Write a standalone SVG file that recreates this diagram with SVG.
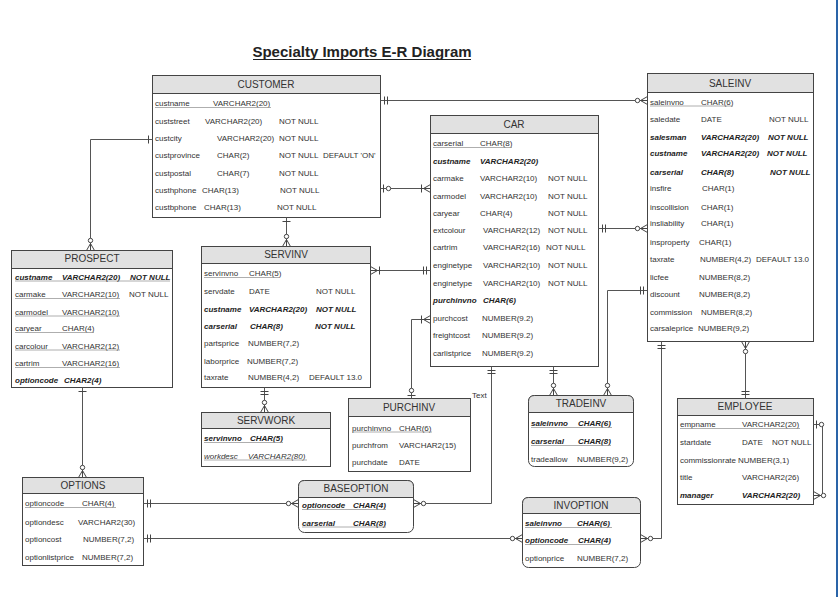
<svg xmlns="http://www.w3.org/2000/svg" xmlns:xlink="http://www.w3.org/1999/xlink" width="839" height="597" viewBox="0 0 839 597">
<style>
.box{fill:#fff;stroke:#444;stroke-width:1}
.hd{fill:#e1e1e1;stroke:#444;stroke-width:1}
.ht{font-family:"Liberation Sans",Arial,sans-serif;font-size:10px;fill:#333;text-anchor:middle}
.r{font-family:"Liberation Sans",Arial,sans-serif;font-size:8px;fill:#333}
.bi{font-weight:bold;font-style:italic;fill:#222}
.it{font-style:italic}
.ul{stroke:#999;stroke-width:0.8}
.cn{fill:none;stroke:#555;stroke-width:1}
.sy{fill:none;stroke:#444;stroke-width:1}
.sc{fill:#fff;stroke:#444;stroke-width:1}
.title{font-family:"Liberation Sans",Arial,sans-serif;font-size:15px;font-weight:bold;fill:#222;text-anchor:middle}
</style>
<defs>
<g id="m0"><path class="sy" d="M0,-4L7,0L0,4M0,0H8"/><circle class="sc" cx="10" cy="0" r="2.2"/></g>
<g id="m1"><path class="sy" d="M0,-4L7,0L0,4M0,0H10M9,-4V4"/></g>
<g id="o1"><path class="sy" d="M4,-4V4M7,-4V4"/></g>
<g id="z1"><path class="sy" d="M3,-4V4"/><circle class="sc" cx="8" cy="0" r="2.2"/></g>
<g id="b1"><path class="sy" d="M4,-4V4"/></g>
</defs>
<rect width="839" height="597" fill="#fff"/>
<line x1="837" y1="0" x2="837" y2="597" stroke="#2a64a8" stroke-width="2"/>
<text class="title" x="362" y="57">Specialty Imports E-R Diagram</text>
<line x1="253" y1="59.5" x2="471" y2="59.5" stroke="#222" stroke-width="1.2"/>

<g id="customer">
<rect class="box" x="152.5" y="75.5" width="228" height="142"/>
<rect class="hd" x="152.5" y="75.5" width="228" height="18"/>
<text class="ht" x="266" y="88">CUSTOMER</text>
<text class="r" y="106"><tspan x="155">custname</tspan><tspan x="213">VARCHAR2(20)</tspan></text>
<line class="ul" x1="155" y1="107.5" x2="271" y2="107.5"/>
<text class="r" y="123.5"><tspan x="155">custstreet</tspan><tspan x="205">VARCHAR2(20)</tspan><tspan x="279">NOT NULL</tspan></text>
<text class="r" y="141"><tspan x="155">custcity</tspan><tspan x="217">VARCHAR2(20)</tspan><tspan x="279">NOT NULL</tspan></text>
<text class="r" y="158"><tspan x="155">custprovince</tspan><tspan x="217">CHAR(2)</tspan><tspan x="279">NOT NULL</tspan><tspan x="323">DEFAULT 'ON'</tspan></text>
<text class="r" y="175.5"><tspan x="155">custpostal</tspan><tspan x="217">CHAR(7)</tspan><tspan x="279">NOT NULL</tspan></text>
<text class="r" y="193"><tspan x="155">custhphone</tspan><tspan x="202">CHAR(13)</tspan><tspan x="280">NOT NULL</tspan></text>
<text class="r" y="210"><tspan x="155">custbphone</tspan><tspan x="204">CHAR(13)</tspan><tspan x="277">NOT NULL</tspan></text>
</g>

<g id="car">
<rect class="box" x="430.5" y="115.5" width="168" height="251"/>
<rect class="hd" x="430.5" y="115.5" width="168" height="18"/>
<text class="ht" x="514" y="128">CAR</text>
<text class="r" y="146"><tspan x="433">carserial</tspan><tspan x="480">CHAR(8)</tspan></text>
<line class="ul" x1="433" y1="147.5" x2="512" y2="147.5"/>
<text class="r bi" y="164"><tspan x="433">custname</tspan><tspan x="480">VARCHAR2(20)</tspan></text>
<text class="r" y="181"><tspan x="433">carmake</tspan><tspan x="480">VARCHAR2(10)</tspan><tspan x="548">NOT NULL</tspan></text>
<text class="r" y="199"><tspan x="433">carmodel</tspan><tspan x="480">VARCHAR2(10)</tspan><tspan x="548">NOT NULL</tspan></text>
<text class="r" y="216"><tspan x="433">caryear</tspan><tspan x="480">CHAR(4)</tspan><tspan x="548">NOT NULL</tspan></text>
<text class="r" y="233"><tspan x="433">extcolour</tspan><tspan x="483">VARCHAR2(12)</tspan><tspan x="548">NOT NULL</tspan></text>
<text class="r" y="250"><tspan x="433">cartrim</tspan><tspan x="483">VARCHAR2(16)</tspan><tspan x="546">NOT NULL</tspan></text>
<text class="r" y="268"><tspan x="433">enginetype</tspan><tspan x="483">VARCHAR2(10)</tspan><tspan x="548">NOT NULL</tspan></text>
<text class="r" y="286"><tspan x="433">enginetype</tspan><tspan x="483">VARCHAR2(10)</tspan><tspan x="548">NOT NULL</tspan></text>
<text class="r bi" y="303"><tspan x="433">purchinvno</tspan><tspan x="483">CHAR(6)</tspan></text>
<text class="r" y="321"><tspan x="433">purchcost</tspan><tspan x="482">NUMBER(9.2)</tspan></text>
<text class="r" y="338"><tspan x="433">freightcost</tspan><tspan x="482">NUMBER(9.2)</tspan></text>
<text class="r" y="356"><tspan x="433">carlistprice</tspan><tspan x="482">NUMBER(9.2)</tspan></text>
</g>

<g id="saleinv">
<rect class="box" x="647.5" y="73.5" width="166" height="268"/>
<rect class="hd" x="647.5" y="73.5" width="166" height="19"/>
<text class="ht" x="730" y="87">SALEINV</text>
<text class="r" y="104.5"><tspan x="650">saleinvno</tspan><tspan x="701">CHAR(6)</tspan></text>
<line class="ul" x1="650" y1="106" x2="733" y2="106"/>
<text class="r" y="122"><tspan x="650">saledate</tspan><tspan x="701">DATE</tspan><tspan x="769">NOT NULL</tspan></text>
<text class="r bi" y="139.5"><tspan x="650">salesman</tspan><tspan x="701">VARCHAR2(20)</tspan><tspan x="768">NOT NULL</tspan></text>
<text class="r bi" y="156"><tspan x="650">custname</tspan><tspan x="701">VARCHAR2(20)</tspan><tspan x="767">NOT NULL</tspan></text>
<text class="r bi" y="174.5"><tspan x="650">carserial</tspan><tspan x="701">CHAR(8)</tspan><tspan x="770">NOT NULL</tspan></text>
<text class="r" y="191"><tspan x="650">insfire</tspan><tspan x="702">CHAR(1)</tspan></text>
<text class="r" y="209.5"><tspan x="650">inscollision</tspan><tspan x="701">CHAR(1)</tspan></text>
<text class="r" y="226"><tspan x="650">insliability</tspan><tspan x="701">CHAR(1)</tspan></text>
<text class="r" y="244.5"><tspan x="650">insproperty</tspan><tspan x="699">CHAR(1)</tspan></text>
<text class="r" y="262"><tspan x="650">taxrate</tspan><tspan x="700">NUMBER(4,2)</tspan><tspan x="756">DEFAULT 13.0</tspan></text>
<text class="r" y="279.5"><tspan x="650">licfee</tspan><tspan x="699">NUMBER(8,2)</tspan></text>
<text class="r" y="297"><tspan x="650">discount</tspan><tspan x="699">NUMBER(8,2)</tspan></text>
<text class="r" y="314.5"><tspan x="650">commission</tspan><tspan x="701">NUMBER(8,2)</tspan></text>
<text class="r" y="331"><tspan x="650">carsaleprice</tspan><tspan x="698">NUMBER(9,2)</tspan></text>
</g>

<g id="prospect">
<rect class="box" x="11.5" y="250.5" width="161" height="137"/>
<rect class="hd" x="11.5" y="250.5" width="161" height="18"/>
<text class="ht" x="92" y="262">PROSPECT</text>
<text class="r bi" y="279.5"><tspan x="15">custname</tspan><tspan x="62">VARCHAR2(20)</tspan><tspan x="130">NOT NULL</tspan></text>
<line class="ul" x1="15" y1="281" x2="170" y2="281"/>
<text class="r" y="297"><tspan x="15">carmake</tspan><tspan x="62">VARCHAR2(10)</tspan><tspan x="129">NOT NULL</tspan></text>
<line class="ul" x1="15" y1="298.5" x2="120" y2="298.5"/>
<text class="r" y="314.5"><tspan x="15">carmodel</tspan><tspan x="62">VARCHAR2(10)</tspan></text>
<line class="ul" x1="15" y1="316" x2="120" y2="316"/>
<text class="r" y="331"><tspan x="15">caryear</tspan><tspan x="62">CHAR(4)</tspan></text>
<line class="ul" x1="15" y1="332.5" x2="94" y2="332.5"/>
<text class="r" y="348.5"><tspan x="15">carcolour</tspan><tspan x="62">VARCHAR2(12)</tspan></text>
<line class="ul" x1="15" y1="350" x2="120" y2="350"/>
<text class="r" y="366"><tspan x="15">cartrim</tspan><tspan x="62">VARCHAR2(16)</tspan></text>
<line class="ul" x1="15" y1="367.5" x2="120" y2="367.5"/>
<text class="r bi" y="383"><tspan x="15">optioncode</tspan><tspan x="64">CHAR2(4)</tspan></text>
</g>

<g id="servinv">
<rect class="box" x="201.5" y="246.5" width="169" height="141"/>
<rect class="hd" x="201.5" y="246.5" width="169" height="17"/>
<text class="ht" x="286" y="258">SERVINV</text>
<text class="r" y="276"><tspan x="204">servinvno</tspan><tspan x="249">CHAR(5)</tspan></text>
<line class="ul" x1="204" y1="277.5" x2="279" y2="277.5"/>
<text class="r" y="293.5"><tspan x="204">servdate</tspan><tspan x="249">DATE</tspan><tspan x="316">NOT NULL</tspan></text>
<text class="r bi" y="312"><tspan x="204">custname</tspan><tspan x="249">VARCHAR2(20)</tspan><tspan x="316">NOT NULL</tspan></text>
<text class="r bi" y="329"><tspan x="204">carserial</tspan><tspan x="250">CHAR(8)</tspan><tspan x="315">NOT NULL</tspan></text>
<text class="r" y="346"><tspan x="204">partsprice</tspan><tspan x="248">NUMBER(7,2)</tspan></text>
<text class="r" y="363.5"><tspan x="204">laborprice</tspan><tspan x="247">NUMBER(7,2)</tspan></text>
<text class="r" y="380"><tspan x="204">taxrate</tspan><tspan x="248">NUMBER(4,2)</tspan><tspan x="309">DEFAULT 13.0</tspan></text>
</g>

<g id="servwork">
<rect class="box" x="201.5" y="412.5" width="129" height="54"/>
<rect class="hd" x="201.5" y="412.5" width="129" height="16"/>
<text class="ht" x="266" y="424">SERVWORK</text>
<text class="r bi" y="441"><tspan x="204">servinvno</tspan><tspan x="250">CHAR(5)</tspan></text>
<line class="ul" x1="204" y1="442.5" x2="283" y2="442.5"/>
<text class="r it" y="458.5"><tspan x="204">workdesc</tspan><tspan x="248">VARCHAR2(80)</tspan></text>
<line class="ul" x1="204" y1="460" x2="307" y2="460"/>
</g>

<g id="purchinv">
<rect class="box" x="348.5" y="398.5" width="122" height="73"/>
<rect class="hd" x="348.5" y="398.5" width="122" height="18"/>
<text class="ht" x="409" y="411">PURCHINV</text>
<text class="r" y="430.5"><tspan x="352">purchinvno</tspan><tspan x="399">CHAR(6)</tspan></text>
<line class="ul" x1="352" y1="432" x2="432" y2="432"/>
<text class="r" y="448"><tspan x="352">purchfrom</tspan><tspan x="399">VARCHAR2(15)</tspan></text>
<text class="r" y="465"><tspan x="352">purchdate</tspan><tspan x="399">DATE</tspan></text>
</g>
<text class="r" x="472" y="398">Text</text>

<g id="tradeinv">
<rect class="box" x="528.5" y="395.5" width="105" height="71" rx="6"/>
<path class="hd" d="M528.5,412.5V401.5Q528.5,395.5 534.5,395.5H627.5Q633.5,395.5 633.5,401.5V412.5Z"/>
<text class="ht" x="581" y="407">TRADEINV</text>
<text class="r bi" y="426"><tspan x="531">saleinvno</tspan><tspan x="578">CHAR(6)</tspan></text>
<line class="ul" x1="531" y1="427.5" x2="612" y2="427.5"/>
<text class="r bi" y="444"><tspan x="531">carserial</tspan><tspan x="578">CHAR(8)</tspan></text>
<line class="ul" x1="531" y1="445.5" x2="611" y2="445.5"/>
<text class="r" y="462"><tspan x="531">tradeallow</tspan><tspan x="577">NUMBER(9,2)</tspan></text>
</g>

<g id="employee">
<rect class="box" x="677.5" y="398.5" width="136" height="106"/>
<rect class="hd" x="677.5" y="398.5" width="136" height="17"/>
<text class="ht" x="745" y="410">EMPLOYEE</text>
<text class="r" y="427"><tspan x="680">empname</tspan><tspan x="742">VARCHAR2(20)</tspan></text>
<line class="ul" x1="680" y1="428.5" x2="800" y2="428.5"/>
<text class="r" y="444.5"><tspan x="680">startdate</tspan><tspan x="742">DATE</tspan><tspan x="772">NOT NULL</tspan></text>
<text class="r" y="463"><tspan x="680">commissionrate</tspan><tspan x="738">NUMBER(3,1)</tspan></text>
<text class="r" y="480"><tspan x="680">title</tspan><tspan x="742">VARCHAR2(26)</tspan></text>
<text class="r bi" y="498"><tspan x="680">manager</tspan><tspan x="742">VARCHAR2(20)</tspan></text>
</g>

<g id="options">
<rect class="box" x="22.5" y="477.5" width="121" height="88"/>
<rect class="hd" x="22.5" y="477.5" width="121" height="16"/>
<text class="ht" x="83" y="489">OPTIONS</text>
<text class="r" y="506"><tspan x="25">optioncode</tspan><tspan x="82">CHAR(4)</tspan></text>
<line class="ul" x1="25" y1="507.5" x2="116" y2="507.5"/>
<text class="r" y="525"><tspan x="25">optiondesc</tspan><tspan x="78">VARCHAR2(30)</tspan></text>
<text class="r" y="542"><tspan x="25">optioncost</tspan><tspan x="83">NUMBER(7,2)</tspan></text>
<text class="r" y="560"><tspan x="25">optionlistprice</tspan><tspan x="82">NUMBER(7,2)</tspan></text>
</g>

<g id="baseoption">
<rect class="box" x="298.5" y="480.5" width="115" height="52" rx="6"/>
<path class="hd" d="M298.5,497.5V486.5Q298.5,480.5 304.5,480.5H407.5Q413.5,480.5 413.5,486.5V497.5Z"/>
<text class="ht" x="356" y="492">BASEOPTION</text>
<text class="r bi" y="508"><tspan x="302">optioncode</tspan><tspan x="353">CHAR(4)</tspan></text>
<line class="ul" x1="302" y1="509.5" x2="386" y2="509.5"/>
<text class="r bi" y="525.5"><tspan x="302">carserial</tspan><tspan x="353">CHAR(8)</tspan></text>
<line class="ul" x1="302" y1="527" x2="386" y2="527"/>
</g>

<g id="invoption">
<rect class="box" x="522.5" y="497.5" width="118" height="70" rx="6"/>
<path class="hd" d="M522.5,513.5V503.5Q522.5,497.5 528.5,497.5H634.5Q640.5,497.5 640.5,503.5V513.5Z"/>
<text class="ht" x="581" y="509">INVOPTION</text>
<text class="r bi" y="526"><tspan x="525">saleinvno</tspan><tspan x="577">CHAR(6)</tspan></text>
<line class="ul" x1="525" y1="527.5" x2="612" y2="527.5"/>
<text class="r bi" y="543"><tspan x="525">optioncode</tspan><tspan x="578">CHAR(4)</tspan></text>
<line class="ul" x1="525" y1="544.5" x2="609" y2="544.5"/>
<text class="r" y="560.5"><tspan x="525">optionprice</tspan><tspan x="577">NUMBER(7,2)</tspan></text>
</g>

<g id="connectors">
<path class="cn" d="M380.5,100.5H647.5"/>
<use xlink:href="#o1" transform="translate(380.5,100.5)"/>
<use xlink:href="#m0" transform="translate(647.5,100.5) rotate(180)"/>

<path class="cn" d="M380.5,188.5H430.5"/>
<use xlink:href="#z1" transform="translate(380.5,188.5)"/>
<use xlink:href="#m1" transform="translate(430.5,188.5) rotate(180)"/>

<path class="cn" d="M152.5,139.5H90.5V250.5"/>
<use xlink:href="#b1" transform="translate(152.5,139.5) rotate(180)"/>
<use xlink:href="#m0" transform="translate(90.5,250.5) rotate(-90)"/>

<path class="cn" d="M286.5,217.5V246.5"/>
<use xlink:href="#b1" transform="translate(286.5,217.5) rotate(90)"/>
<use xlink:href="#m0" transform="translate(286.5,246.5) rotate(-90)"/>

<path class="cn" d="M370.5,270.5H430.5"/>
<use xlink:href="#m1" transform="translate(370.5,270.5)"/>
<use xlink:href="#o1" transform="translate(430.5,270.5) rotate(180)"/>

<path class="cn" d="M430.5,319.5H411.5V398.5"/>
<use xlink:href="#m1" transform="translate(430.5,319.5) rotate(180)"/>
<use xlink:href="#z1" transform="translate(411.5,398.5) rotate(-90)"/>

<path class="cn" d="M491.5,366.5V503.5H413.5"/>
<use xlink:href="#o1" transform="translate(491.5,366.5) rotate(90)"/>
<use xlink:href="#m0" transform="translate(413.5,503.5)"/>

<path class="cn" d="M553.5,366.5V395.5"/>
<use xlink:href="#o1" transform="translate(553.5,366.5) rotate(90)"/>
<use xlink:href="#m0" transform="translate(553.5,395.5) rotate(-90)"/>

<path class="cn" d="M598.5,228.5H647.5"/>
<use xlink:href="#o1" transform="translate(598.5,228.5)"/>
<use xlink:href="#m0" transform="translate(647.5,228.5) rotate(180)"/>

<path class="cn" d="M647.5,290.5H607.5V395.5"/>
<use xlink:href="#o1" transform="translate(647.5,290.5) rotate(180)"/>
<use xlink:href="#m0" transform="translate(607.5,395.5) rotate(-90)"/>

<path class="cn" d="M745.5,341.5V398.5"/>
<use xlink:href="#m0" transform="translate(745.5,341.5) rotate(90)"/>
<use xlink:href="#o1" transform="translate(745.5,398.5) rotate(-90)"/>

<path class="cn" d="M661.5,341.5V538.5H640.5"/>
<use xlink:href="#o1" transform="translate(661.5,341.5) rotate(90)"/>
<use xlink:href="#m0" transform="translate(640.5,538.5)"/>

<path class="cn" d="M143.5,503.5H298.5"/>
<use xlink:href="#o1" transform="translate(143.5,503.5)"/>
<use xlink:href="#m0" transform="translate(298.5,503.5) rotate(180)"/>

<path class="cn" d="M143.5,538.5H522.5"/>
<use xlink:href="#o1" transform="translate(143.5,538.5)"/>
<use xlink:href="#m0" transform="translate(522.5,538.5) rotate(180)"/>

<path class="cn" d="M82.5,387.5V477.5"/>
<use xlink:href="#b1" transform="translate(82.5,387.5) rotate(90)"/>
<use xlink:href="#m0" transform="translate(82.5,477.5) rotate(-90)"/>

<path class="cn" d="M264.5,387.5V412.5"/>
<use xlink:href="#o1" transform="translate(264.5,387.5) rotate(90)"/>
<use xlink:href="#m0" transform="translate(264.5,412.5) rotate(-90)"/>

<path class="cn" d="M813.5,424.5H822.5V495.5H813.5"/>
<use xlink:href="#z1" transform="translate(813.5,424.5)"/>
<use xlink:href="#m0" transform="translate(813.5,495.5)"/>
</g>
</svg>
